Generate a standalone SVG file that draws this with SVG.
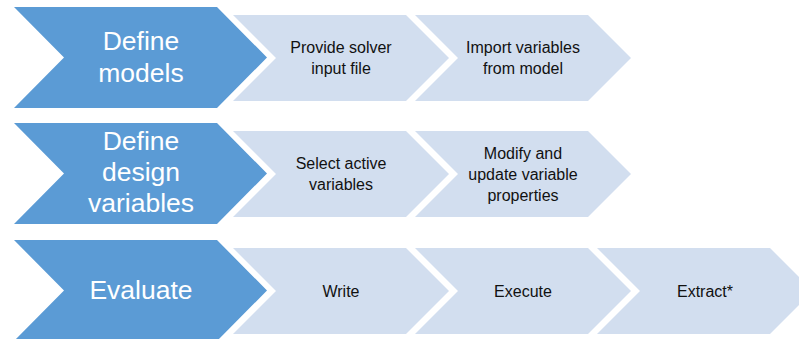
<svg xmlns="http://www.w3.org/2000/svg" width="799" height="339" viewBox="0 0 799 339">
<style>
.dark{fill:#5B9BD5;}
.light{fill:#D2DEEF;}
.dt{font-family:"Liberation Sans",Arial,sans-serif;font-size:26.5px;fill:#ffffff;text-anchor:middle;}
.lt{font-family:"Liberation Sans",Arial,sans-serif;font-size:16px;fill:#111111;text-anchor:middle;}
</style>
<rect width="799" height="339" fill="#ffffff"/>
<g id="row1">
<g id="define-models"><polygon class="dark" points="14,7 217,7 267,57.5 217,108 14,108 64,57.5"/><text class="dt" x="141" y="50">Define</text><text class="dt" x="141" y="82">models</text></g>
<g id="provide-solver"><polygon class="light" points="233,15 406,15 449,58 406,101 233,101 276,58"/><text class="lt" x="341" y="53">Provide solver</text><text class="lt" x="341" y="74">input file</text></g>
<g id="import-variables"><polygon class="light" points="415,15 588,15 631,58 588,101 415,101 458,58"/><text class="lt" x="523" y="53">Import variables</text><text class="lt" x="523" y="74">from model</text></g>
</g>
<g id="row2">
<g id="define-design-variables"><polygon class="dark" points="14,123 217,123 267,173.5 217,224 14,224 64,173.5"/><text class="dt" x="141" y="150">Define</text><text class="dt" x="141" y="181">design</text><text class="dt" x="141" y="212">variables</text></g>
<g id="select-active"><polygon class="light" points="233,131 406,131 449,174 406,217 233,217 276,174"/><text class="lt" x="341" y="169">Select active</text><text class="lt" x="341" y="190">variables</text></g>
<g id="modify-update"><polygon class="light" points="415,131 588,131 631,174 588,217 415,217 458,174"/><text class="lt" x="523" y="159">Modify and</text><text class="lt" x="523" y="180">update variable</text><text class="lt" x="523" y="201">properties</text></g>
</g>
<g id="row3">
<g id="evaluate"><polygon class="dark" points="14,240 217,240 267,290.5 217,341 14,341 64,290.5"/><text class="dt" x="141" y="299">Evaluate</text></g>
<g id="write"><polygon class="light" points="233,248 406,248 449,291 406,334 233,334 276,291"/><text class="lt" x="341" y="297">Write</text></g>
<g id="execute"><polygon class="light" points="415,248 588,248 631,291 588,334 415,334 458,291"/><text class="lt" x="523" y="297">Execute</text></g>
<g id="extract"><polygon class="light" points="597,248 770,248 813,291 770,334 597,334 640,291"/><text class="lt" x="705" y="297">Extract*</text></g>
</g>
<g id="connectors"></g>
</svg>
